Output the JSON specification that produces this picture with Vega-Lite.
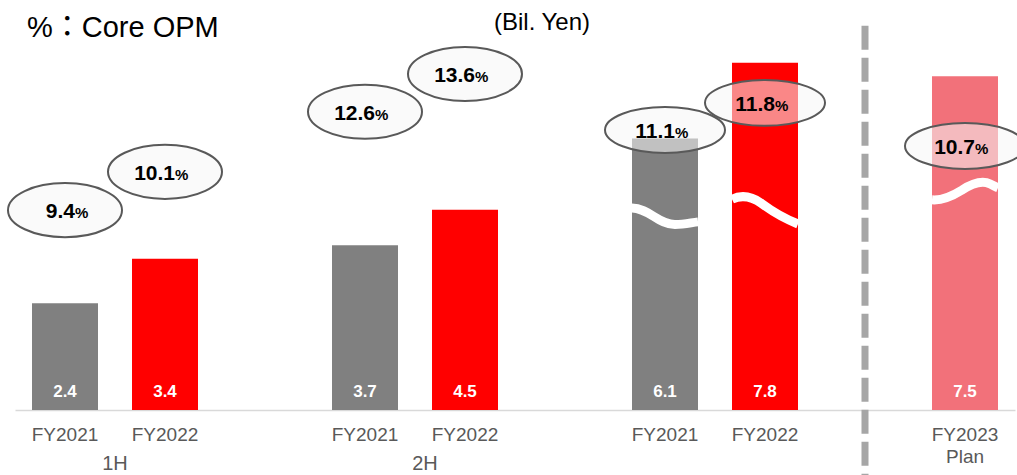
{
  "$schema": "https://vega.github.io/schema/vega-lite/v6.json",
  "width": 1000,
  "height": 365,
  "autosize": {"type": "none"},
  "padding": {"left": 15, "top": 45, "right": 2, "bottom": 65},
  "background": "#ffffff",
  "config": {"view": {"stroke": null}, "font": "Liberation Sans"},
  "data": {
    "values": [
      {"slot": "1H FY2021", "period": "1H", "series": "FY2021", "value": 2.4, "opm": 9.4, "opm_y": 4.49},
      {"slot": "1H FY2022", "period": "1H", "series": "FY2022", "value": 3.4, "opm": 10.1, "opm_y": 5.35},
      {"slot": "2H FY2021", "period": "2H", "series": "FY2021", "value": 3.7, "opm": 12.6, "opm_y": 6.70},
      {"slot": "2H FY2022", "period": "2H", "series": "FY2022", "value": 4.5, "opm": 13.6, "opm_y": 7.55},
      {"slot": "FY FY2021", "period": "FY", "series": "FY2021", "value": 6.1, "opm": 11.1, "opm_y": 6.29, "wave_y": 4.36},
      {"slot": "FY FY2022", "period": "FY", "series": "FY2022", "value": 7.8, "opm": 11.8, "opm_y": 6.90, "wave_y": 4.49},
      {"slot": "FY2023 Plan", "period": "Plan", "series": "FY2023 Plan", "value": 7.5, "opm": 10.7, "opm_y": 5.93, "wave_y": 4.90}
    ]
  },
  "encoding": {
    "x": {
      "field": "slot",
      "type": "nominal",
      "title": null,
      "sort": null,
      "scale": {
        "domain": ["1H FY2021", "1H FY2022", "gap1", "2H FY2021", "2H FY2022", "gap2", "FY FY2021", "FY FY2022", "gap3", "FY2023 Plan"],
        "paddingInner": 0.34,
        "paddingOuter": 0.17
      },
      "axis": {
        "ticks": false,
        "domainColor": "#D9D9D9",
        "domainWidth": 1.5,
        "labelAngle": 0,
        "labelFont": "Liberation Sans",
        "labelFontSize": 19,
        "labelColor": "#595959",
        "labelBaseline": "alphabetic",
        "labelPadding": 30,
        "labelLineHeight": 22,
        "labelOverlap": false,
        "labelFlush": false,
        "labelBound": false,
        "labelExpr": "datum.value == 'FY2023 Plan' ? ['FY2023', 'Plan'] : (indexof(datum.value, 'gap') == 0 ? '' : slice(datum.value, -6))"
      }
    }
  },
  "layer": [
    {
      "mark": {"type": "bar"},
      "encoding": {
        "y": {"field": "value", "type": "quantitative", "axis": null, "scale": {"domain": [0, 8.2], "nice": false, "zero": true}},
        "color": {
          "field": "series",
          "type": "nominal",
          "legend": null,
          "scale": {"domain": ["FY2021", "FY2022", "FY2023 Plan"], "range": ["#808080", "#FF0000", "#F2717A"]}
        }
      }
    },
    {
      "mark": {"type": "text", "color": "#ffffff", "fontSize": 17, "fontWeight": "bold", "font": "Liberation Sans", "baseline": "alphabetic", "dy": -13},
      "encoding": {
        "y": {"datum": 0, "type": "quantitative", "axis": null},
        "text": {"field": "value", "type": "quantitative", "format": ".1f"}
      }
    },
    {
      "transform": [{"filter": {"field": "slot", "equal": "FY FY2021"}}],
      "mark": {"type": "point", "shape": "M-1,-0.24 C-0.5,-0.24 -0.2,0.26 0.3,0.26 C0.6,0.26 0.8,0.2 1,0.18", "size": 4356, "filled": false, "stroke": "#ffffff", "strokeWidth": 9, "strokeCap": "butt", "opacity": 1},
      "encoding": {"y": {"field": "wave_y", "type": "quantitative", "axis": null}}
    },
    {
      "transform": [{"filter": {"field": "slot", "equal": "FY FY2022"}}],
      "mark": {"type": "point", "shape": "M-1,-0.33 C-0.75,-0.45 -0.45,-0.45 -0.1,-0.2 C0.3,0.1 0.7,0.3 1,0.42", "size": 4356, "filled": false, "stroke": "#ffffff", "strokeWidth": 9, "strokeCap": "butt", "opacity": 1},
      "encoding": {"y": {"field": "wave_y", "type": "quantitative", "axis": null}}
    },
    {
      "transform": [{"filter": {"field": "slot", "equal": "FY2023 Plan"}}],
      "mark": {"type": "point", "shape": "M-1,0.24 C-0.75,0.26 -0.5,0.2 -0.1,-0.05 C0.25,-0.28 0.45,-0.32 0.65,-0.28 C0.8,-0.24 0.9,-0.16 1,-0.12", "size": 4356, "filled": false, "stroke": "#ffffff", "strokeWidth": 9, "strokeCap": "butt", "opacity": 1},
      "encoding": {"y": {"field": "wave_y", "type": "quantitative", "axis": null}}
    },
    {
      "data": {"values": [{"divider": "plan"}]},
      "mark": {"type": "rule", "color": "#A6A6A6", "strokeWidth": 7, "strokeDash": [24, 8]},
      "encoding": {
        "x": {"datum": "gap3"},
        "y": {"datum": 8.63, "type": "quantitative", "axis": null},
        "y2": {"datum": -1.5}
      }
    },
    {
      "transform": [{"filter": {"field": "period", "oneOf": ["1H", "2H"]}}],
      "mark": {"type": "point", "shape": "M-1,0 A1,0.474 0 1,1 1,0 A1,0.474 0 1,1 -1,0 Z", "size": 12996, "filled": true, "fill": "#F5F5F5", "fillOpacity": 0.55, "stroke": "#595959", "strokeWidth": 2, "opacity": 1},
      "encoding": {"y": {"field": "opm_y", "type": "quantitative", "axis": null}}
    },
    {
      "transform": [{"filter": {"field": "period", "oneOf": ["FY", "Plan"]}}],
      "mark": {"type": "point", "shape": "M-1,0 A1,0.383 0 1,1 1,0 A1,0.383 0 1,1 -1,0 Z", "size": 14400, "filled": true, "fill": "#F5F5F5", "fillOpacity": 0.55, "stroke": "#595959", "strokeWidth": 2, "opacity": 1},
      "encoding": {"y": {"field": "opm_y", "type": "quantitative", "axis": null}}
    },
    {
      "mark": {"type": "text", "align": "right", "baseline": "alphabetic", "dx": 10, "dy": 8, "fontSize": 21, "fontWeight": "bold", "font": "Liberation Sans", "color": "#000000"},
      "encoding": {
        "y": {"field": "opm_y", "type": "quantitative", "axis": null},
        "text": {"field": "opm", "type": "quantitative", "format": ".1f"}
      }
    },
    {
      "mark": {"type": "text", "align": "left", "baseline": "alphabetic", "dx": 10, "dy": 8, "fontSize": 15, "fontWeight": "bold", "font": "Liberation Sans", "color": "#000000", "text": "%"},
      "encoding": {
        "y": {"field": "opm_y", "type": "quantitative", "axis": null}
      }
    },
    {
      "data": {"values": [{"label": "1H", "anchor": "1H FY2022"}]},
      "mark": {"type": "text", "align": "center", "baseline": "alphabetic", "dx": -50, "dy": 60, "fontSize": 20, "font": "Liberation Sans", "color": "#595959"},
      "encoding": {
        "x": {"field": "anchor", "type": "nominal"},
        "y": {"datum": 0, "type": "quantitative", "axis": null},
        "text": {"field": "label"}
      }
    },
    {
      "data": {"values": [{"label": "2H", "anchor": "2H FY2022"}]},
      "mark": {"type": "text", "align": "center", "baseline": "alphabetic", "dx": -40, "dy": 60, "fontSize": 20, "font": "Liberation Sans", "color": "#595959"},
      "encoding": {
        "x": {"field": "anchor", "type": "nominal"},
        "y": {"datum": 0, "type": "quantitative", "axis": null},
        "text": {"field": "label"}
      }
    },
    {
      "data": {"values": [{"label": "(Bil. Yen)", "anchor": "2H FY2022"}]},
      "mark": {"type": "text", "align": "center", "baseline": "alphabetic", "dx": 77, "fontSize": 24, "font": "Liberation Sans", "color": "#000000"},
      "encoding": {
        "x": {"field": "anchor", "type": "nominal"},
        "y": {"datum": 8.54, "type": "quantitative", "axis": null},
        "text": {"field": "label"}
      }
    },
    {
      "data": {"values": [{"label": "%：Core OPM", "anchor": "1H FY2021"}]},
      "mark": {"type": "text", "align": "left", "baseline": "alphabetic", "dx": -38, "fontSize": 29, "font": "Liberation Sans, Noto Sans CJK JP", "color": "#000000"},
      "encoding": {
        "x": {"field": "anchor", "type": "nominal"},
        "y": {"datum": 8.38, "type": "quantitative", "axis": null},
        "text": {"field": "label"}
      }
    }
  ]
}
